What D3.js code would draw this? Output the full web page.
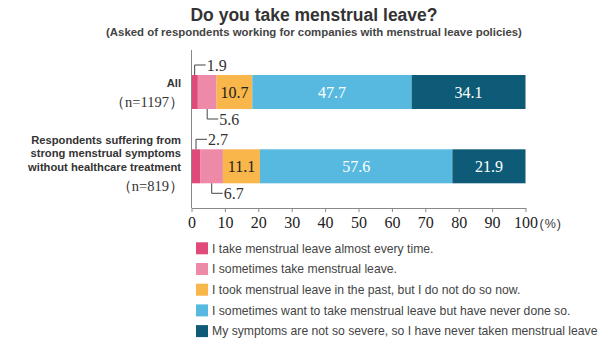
<!DOCTYPE html>
<html>
<head>
<meta charset="utf-8">
<script src="https://cdn.jsdelivr.net/npm/d3@7"></script>
<style>
  body { margin: 0; background: #fff; }
  svg { display: block; }
</style>
</head>
<body>
<svg width="600" height="339"></svg>
<script>
// data
const categories = ["All", "Respondents suffering from strong menstrual symptoms without healthcare treatment"];
const categoryLines = [["All"], ["Respondents suffering from", "strong menstrual symptoms", "without healthcare treatment"]];
const sampleSizes = ["（n=1197）", "（n=819）"];
const seriesNames = [
    "I take menstrual leave almost every time.",
    "I sometimes take menstrual leave.",
    "I took menstrual leave in the past, but I do not do so now.",
    "I sometimes want to take menstrual leave but have never done so.",
    "My symptoms are not so severe, so I have never taken menstrual leave"
];
const values = [
    [1.9, 5.6, 10.7, 47.7, 34.1],
    [2.7, 6.7, 11.1, 57.6, 21.9]
];
const colors = ["#df4a7b", "#ec8aa8", "#f8b64b", "#57b9e0", "#0d5b77"];
const ticks = [0, 10, 20, 30, 40, 50, 60, 70, 80, 90, 100];

const svg = d3.select("svg");
const serif = "'Liberation Serif', 'DejaVu Serif', serif";
const sans = "'Liberation Sans', Arial, sans-serif";

const x = d3.scaleLinear().domain([0, 100]).range([191.5, 525.5]);
const y = d3.scalePoint().domain(categories).range([92, 166.3]);
const barH = 34;

// title
svg.append("text")
    .attr("x", 314).attr("y", 21)
    .attr("text-anchor", "middle")
    .attr("font-family", sans).attr("font-weight", "bold")
    .attr("font-size", "17.5px").attr("fill", "#333")
    .text("Do you take menstrual leave?");

svg.append("text")
    .attr("x", 314).attr("y", 36)
    .attr("text-anchor", "middle")
    .attr("font-family", sans).attr("font-weight", "bold")
    .attr("font-size", "11.4px").attr("fill", "#444")
    .text("(Asked of respondents working for companies with menstrual leave policies)");

// bars
values.forEach((row, i) => {
    const cy = y(categories[i]);
    const top = cy - barH / 2;
    let acc = 0;
    row.forEach((v, j) => {
        const x0 = x(acc), x1 = x(acc + v);
        svg.append("rect")
            .attr("x", x0).attr("y", top)
            .attr("width", x1 - x0).attr("height", barH)
            .attr("fill", colors[j]);

        if (j >= 2) {
            svg.append("text")
                .attr("x", (x0 + x1) / 2).attr("y", cy + 5.5)
                .attr("text-anchor", "middle")
                .attr("font-family", serif).attr("font-size", "16px")
                .attr("fill", j == 2 ? "#222" : "#fff")
                .text(v.toFixed(1));
        } else {
            // leader lines for small segments
            const mx = (x0 + x1) / 2;
            const ly = j == 0 ? top - 10 : top + barH + 10;
            svg.append("path")
                .attr("d", `M${mx},${j == 0 ? top : top + barH}V${ly}H${mx + 11}`)
                .attr("fill", "none").attr("stroke", "#444").attr("stroke-width", 1);
            svg.append("text")
                .attr("x", mx + 12).attr("y", ly + 5.5)
                .attr("font-family", serif).attr("font-size", "16px")
                .attr("fill", "#333")
                .text(v.toFixed(1));
        }
        acc += v;
    });

    // category labels
    const lines = categoryLines[i];
    const firstY = i == 0 ? cy - 9.5 : cy - 26.3;
    lines.forEach((t, k) => {
        svg.append("text")
            .attr("x", 181).attr("y", firstY + k * 13.3 + 4)
            .attr("text-anchor", "end")
            .attr("font-family", sans).attr("font-weight", "bold")
            .attr("font-size", "11.2px").attr("fill", "#333")
            .text(t);
    });
    svg.append("text")
        .attr("x", 184).attr("y", (i == 0 ? cy + 9.5 : cy + 19.7) + 5)
        .attr("text-anchor", "end")
        .attr("font-family", serif).attr("font-size", "14.5px")
        .attr("fill", "#333")
        .text(sampleSizes[i]);
});

// axes
svg.append("line")
    .attr("x1", x(0)).attr("x2", x(0))
    .attr("y1", 50).attr("y2", 208)
    .attr("stroke", "#888");

const axis = svg.append("g")
    .attr("transform", "translate(0,208)")
    .call(d3.axisBottom(x).tickValues(ticks).tickSize(4).tickSizeOuter(0).tickFormat(d3.format("d")));
axis.select(".domain").attr("stroke", "#888");
axis.selectAll(".tick line").attr("stroke", "#888");
axis.selectAll(".tick text")
    .attr("font-family", serif).attr("font-size", "16px")
    .attr("fill", "#222").attr("dy", "0.95em").attr("y", 5);

svg.append("text")
    .attr("x", x(100) + 14).attr("y", 228)
    .attr("font-family", sans).attr("font-size", "12.5px")
    .attr("fill", "#333")
    .attr("letter-spacing", "1")
    .text("(%)");

// legend
const legend = svg.append("g");
seriesNames.forEach((name, i) => {
    const ly = 248.3 + i * 20.7;
    legend.append("rect")
        .attr("x", 196).attr("y", ly - 6)
        .attr("width", 12).attr("height", 12)
        .attr("fill", colors[i]);
    legend.append("text")
        .attr("x", 212).attr("y", ly + 4.3)
        .attr("font-family", sans).attr("font-size", "12.2px")
        .attr("fill", "#444")
        .text(name);
});
</script>
</body>
</html>
